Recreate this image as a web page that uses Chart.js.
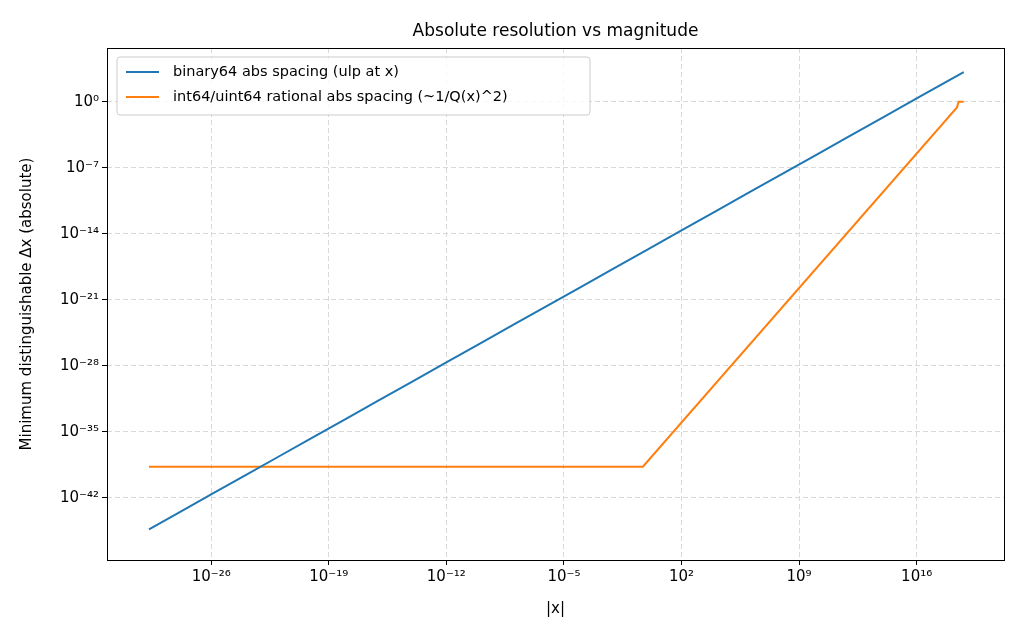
<!DOCTYPE html>
<html>
<head>
<meta charset="utf-8">
<script src="https://cdn.jsdelivr.net/npm/chart.js@4"></script>
<style>body{margin:0;background:#fff}</style>
</head>
<body>
<canvas id="c" width="1024" height="640"></canvas>
<script>
// values are log10 exponents
const blueX = [-29.7,-28,-26,-24,-22,-20,-18,-16,-14,-12,-10,-8,-6,-4,-2,0,2,4,6,8,10,12,14,16,18,18.8];
const blueY = [-45.35,-43.65,-41.65,-39.65,-37.65,-35.65,-33.65,-31.65,-29.65,-27.65,-25.65,-23.65,-21.65,-19.65,-17.65,-15.65,-13.65,-11.65,-9.65,-7.65,-5.65,-3.65,-1.65,0.35,2.35,3.15];
const orangeX = [-29.7,-0.3,18.4,18.5,18.8];
const orangeY = [-38.7,-38.7,-0.6,0,0];
const xTicks = [-26,-19,-12,-5,2,9,16];
const yTicks = [0,-7,-14,-21,-28,-35,-42];
const labels = ['binary64 abs spacing (ulp at x)','int64/uint64 rational abs spacing (~1/Q(x)^2)'];

const sup = s => String(s).replace(/-/g,'⁻').replace(/\d/g,d=>'⁰¹²³⁴⁵⁶⁷⁸⁹'[d]);
const pts = (xs,ys) => xs.map((x,i)=>({x:x,y:ys[i]}));
const F = 'DejaVu Sans';

const deco = {
  id:'deco',
  afterDraw(ch){
    const c = ch.ctx, a = ch.chartArea;
    c.save();
    c.strokeStyle='#000'; c.lineWidth=1;
    c.strokeRect(a.left+0.5,a.top+0.5,a.right-a.left,a.bottom-a.top);
    c.fillStyle='#000'; c.font='17px '+F; c.textAlign='center';
    c.fillText('Absolute resolution vs magnitude',(a.left+a.right)/2,36);
    // legend
    const bx=a.left+10, by=a.top+9, bw=473, bh=58;
    c.fillStyle='rgba(255,255,255,0.8)'; c.strokeStyle='#ccc';
    c.beginPath(); c.roundRect(bx,by,bw,bh,3); c.fill(); c.stroke();
    c.font='14.5px '+F; c.textAlign='left'; c.textBaseline='middle';
    ch.data.datasets.forEach((d,i)=>{
      const yy=by+15+i*25;
      c.strokeStyle=d.borderColor; c.lineWidth=2;
      c.beginPath(); c.moveTo(bx+9,yy); c.lineTo(bx+42,yy); c.stroke();
      c.fillStyle='#000'; c.fillText(d.label,bx+56,yy);
    });
    c.restore();
  }
};

new Chart(document.getElementById('c'),{
  type:'line',
  data:{datasets:[
    {label:labels[0],data:pts(blueX,blueY),borderColor:'#1f77b4',borderWidth:2,pointRadius:0,tension:0},
    {label:labels[1],data:pts(orangeX,orangeY),borderColor:'#ff7f0e',borderWidth:2,pointRadius:0,tension:0}
  ]},
  options:{
    responsive:false,animation:false,devicePixelRatio:1,
    layout:{padding:{left:18,top:48,right:20,bottom:22}},
    plugins:{legend:{display:false},tooltip:{enabled:false}},
    scales:{
      x:{type:'linear',min:-32.2,max:21.2,
        afterBuildTicks:s=>{s.ticks=xTicks.map(v=>({value:v}));},
        afterFit:s=>{s.height=58;},
        ticks:{color:'#000',font:{family:F,size:15},callback:v=>'10'+sup(v),maxRotation:0},
        grid:{color:'#d9d9d9',tickColor:'#000',tickLength:5},
        border:{display:false,dash:[5,3]},
        title:{display:true,text:'|x|',color:'#000',font:{family:F,size:15},padding:{top:0,bottom:0}}},
      y:{type:'linear',min:-48.6,max:5.7,
        afterBuildTicks:s=>{s.ticks=yTicks.map(v=>({value:v}));},
        afterFit:s=>{s.width=89;},
        ticks:{color:'#000',font:{family:F,size:15},callback:v=>'10'+sup(v)},
        grid:{color:'#d9d9d9',tickColor:'#000',tickLength:5},
        border:{display:false,dash:[5,3]},
        title:{display:true,text:'Minimum distinguishable Δx (absolute)',color:'#000',font:{family:F,size:15},padding:{top:0,bottom:0}}}
    }
  },
  plugins:[deco]
});
</script>
</body>
</html>
